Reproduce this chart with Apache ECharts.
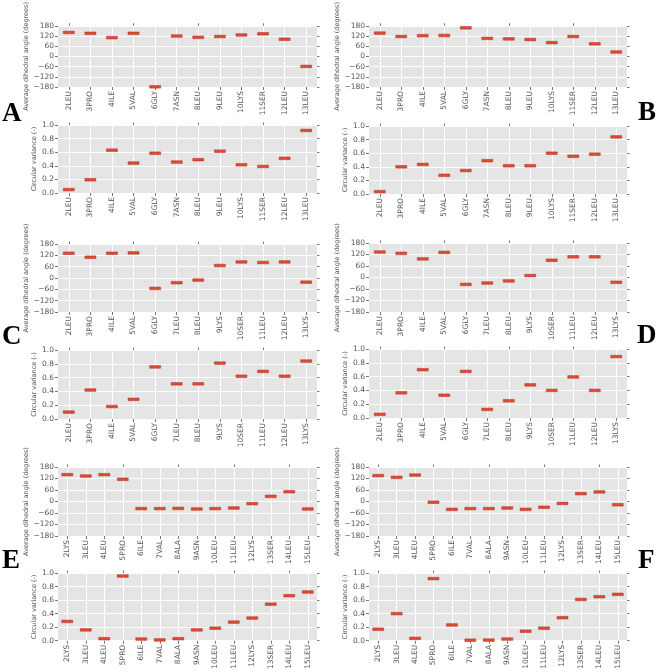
<!DOCTYPE html>
<html><head><meta charset="utf-8">
<script src="https://cdn.jsdelivr.net/npm/echarts@6/dist/echarts.min.js"></script>
<style>html,body{margin:0;padding:0;background:#fff}#c{width:656px;height:672px}</style>
</head><body><div id="c"></div>
<script>
// ---- Data ----
const catsAB = ['2LEU','3PRO','4ILE','5VAL','6GLY','7ASN','8LEU','9LEU','10LYS','11SER','12LEU','13LEU'];
const catsCD = ['2LEU','3PRO','4ILE','5VAL','6GLY','7LEU','8LEU','9LYS','10SER','11LEU','12LEU','13LYS'];
const catsEF = ['2LYS','3LEU','4LEU','5PRO','6ILE','7VAL','8ALA','9ASN','10LEU','11LEU','12LYS','13SER','14LEU','15LEU'];

const angleA = [141,136,110,136,-179,120,112,117,126,133,101,-59];
const varA   = [0.05,0.195,0.63,0.44,0.585,0.455,0.49,0.615,0.415,0.39,0.51,0.92];
const angleB = [137,117,122,123,168,106,103,99,81,117,74,26];
const varB   = [0.035,0.40,0.435,0.275,0.345,0.49,0.415,0.415,0.60,0.555,0.585,0.84];
const angleC = [131,110,131,133,-55,-25,-11,66,85,82,85,-22];
const varC   = [0.10,0.42,0.18,0.285,0.755,0.51,0.51,0.81,0.62,0.69,0.62,0.84];
const angleD = [133,126,97,131,-36,-29,-18,10,90,108,108,-25];
const varD   = [0.053,0.365,0.70,0.33,0.675,0.125,0.25,0.48,0.40,0.595,0.40,0.89];
const angleE = [140,133,140,116,-37,-37,-36,-39,-37,-34,-11,27,51,-39];
const varE   = [0.285,0.16,0.03,0.955,0.025,0.012,0.03,0.16,0.185,0.275,0.335,0.54,0.665,0.72];
const angleF = [135,126,138,-4,-41,-37,-37,-34,-41,-30,-10,41,50,-17];
const varF   = [0.17,0.40,0.035,0.917,0.233,0.008,0.01,0.025,0.14,0.185,0.34,0.61,0.65,0.685];

const angleTicks = {min:-180, max:180, interval:60};
const varTicks = {min:0, max:1, interval:0.2};
const angleName = 'Average dihedral angle (degrees)';
const varName = 'Circular variance (-)';

// ---- Layout ----
const panels = [
  {cats:catsAB, vals:angleA, angle:true,  left:58,  top:19,  w:259, h:68},
  {cats:catsAB, vals:varA,   angle:false, left:58,  top:125, w:259, h:68},
  {cats:catsAB, vals:angleB, angle:true,  left:369, top:18,  w:258, h:69},
  {cats:catsAB, vals:varB,   angle:false, left:369, top:126, w:258, h:68},
  {cats:catsCD, vals:angleC, angle:true,  left:58,  top:244, w:259, h:68},
  {cats:catsCD, vals:varC,   angle:false, left:58,  top:350, w:259, h:69},
  {cats:catsCD, vals:angleD, angle:true,  left:369, top:243, w:258, h:69},
  {cats:catsCD, vals:varD,   angle:false, left:369, top:349, w:258, h:69},
  {cats:catsEF, vals:angleE, angle:true,  left:58,  top:467, w:259, h:69},
  {cats:catsEF, vals:varE,   angle:false, left:58,  top:573, w:259, h:69},
  {cats:catsEF, vals:angleF, angle:true,  left:369, top:467, w:258, h:69},
  {cats:catsEF, vals:varF,   angle:false, left:369, top:573, w:258, h:68}
];

const GRAY = '#555555';
const FONT = 'DejaVu Sans';
const grid = [], xAxis = [], yAxis = [], series = [];
panels.forEach((p, i) => {
  grid.push({left:p.left, top:p.top, width:p.w, height:p.h, show:true,
    backgroundColor:'#E5E5E5', borderWidth:0, containLabel:false});
  xAxis.push({type:'category', gridIndex:i, data:p.cats, boundaryGap:true, position:'bottom',
    axisLine:{show:false, onZero:false},
    axisTick:{show:true, alignWithLabel:true, length:3, lineStyle:{color:GRAY, width:0.8}},
    axisLabel:{rotate:90, interval:0, margin:4, color:GRAY, fontSize:7.5, fontFamily:FONT},
    splitLine:{show:true, alignWithLabel:true, interval:0, lineStyle:{color:'#ffffff', width:1}}
  });
  xAxis.push({type:'category', gridIndex:i, data:p.cats, position:'top', boundaryGap:true,
    axisLine:{show:false, onZero:false}, axisLabel:{show:false}, splitLine:{show:false},
    axisTick:{show:true, alignWithLabel:true, length:2.5, lineStyle:{color:GRAY, width:0.8}}
  });
  const t = p.angle ? angleTicks : varTicks;
  yAxis.push({type:'value', gridIndex:i, min:t.min, max:t.max, interval:t.interval, position:'left',
    name: p.angle ? angleName : varName, nameLocation:'middle',
    nameGap: p.angle ? 26 : 20,
    nameTextStyle:{color:GRAY, fontSize:6.5, fontFamily:FONT},
    axisLine:{show:false, onZero:false},
    axisTick:{show:true, length:3, lineStyle:{color:GRAY, width:0.8}},
    axisLabel:{margin:4, color:GRAY, fontSize:7.5, fontFamily:FONT,
      formatter: v => p.angle ? (v < 0 ? '\u2212' + Math.abs(v) : String(v)) : v.toFixed(1)},
    splitLine:{show:true, lineStyle:{color:'#ffffff', width:1}}
  });
  yAxis.push({type:'value', gridIndex:i, min:t.min, max:t.max, interval:t.interval, position:'right',
    axisLine:{show:false, onZero:false}, axisLabel:{show:false}, splitLine:{show:false},
    axisTick:{show:true, length:2.5, lineStyle:{color:GRAY, width:0.8}}
  });
  series.push({type:'scatter', xAxisIndex:2*i, yAxisIndex:2*i,
    data:p.vals, symbol:'rect', symbolSize:[11,2.6],
    itemStyle:{color:'#E24A33', borderColor:'#a8321f', borderWidth:0.4, opacity:1},
    clip:false, silent:true});
});

const letters = [
  {t:'A', x:2, y:101}, {t:'B', x:638, y:100},
  {t:'C', x:2, y:324}, {t:'D', x:637, y:323},
  {t:'E', x:2, y:548}, {t:'F', x:638, y:548}
];
const graphic = letters.map(l => ({type:'text', left:l.x, top:l.y,
  style:{text:l.t, font:'bold 27px "Liberation Serif"', fill:'#000'}}));

const chart = echarts.init(document.getElementById('c'), null, {renderer:'canvas'});
chart.setOption({animation:false, backgroundColor:'#ffffff', grid, xAxis, yAxis, series, graphic});
</script></body></html>
